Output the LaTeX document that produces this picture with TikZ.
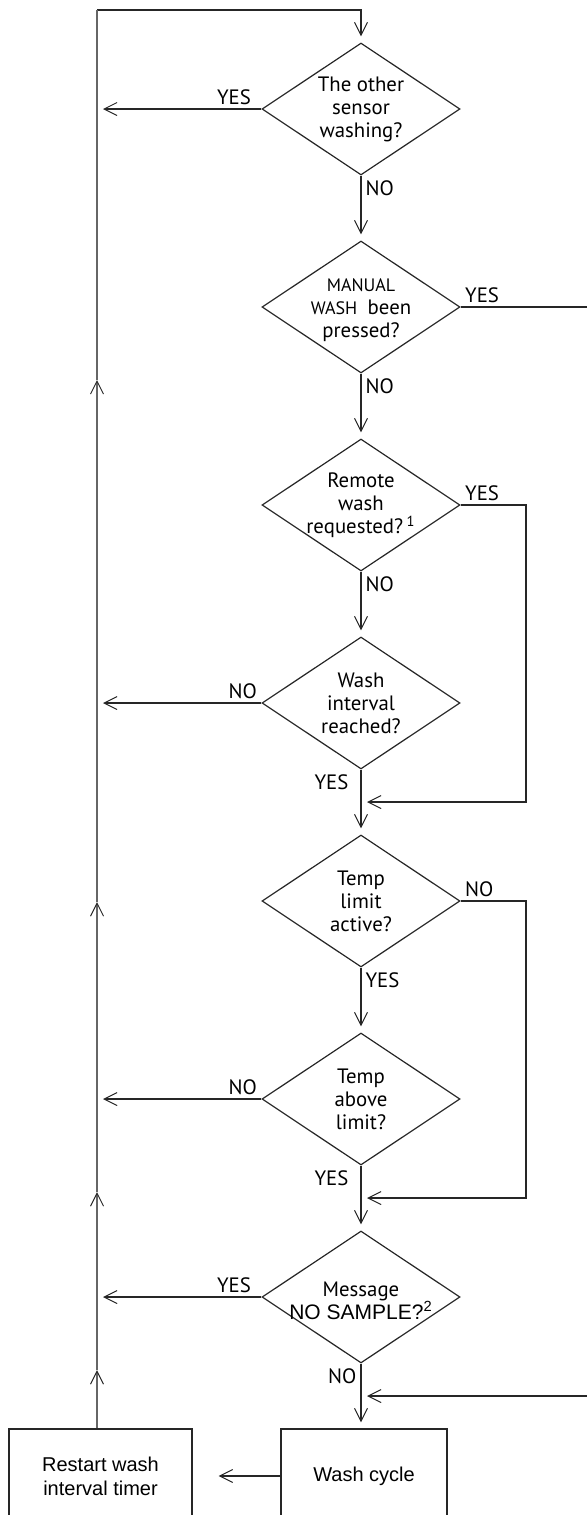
\documentclass[tikz,border=0pt]{standalone}
\usepackage{fontspec}
\setmainfont{PT Sans}
\newfontfamily\arial{Liberation Sans}
\usetikzlibrary{shapes.geometric, arrows.meta}

\begin{document}
\begin{tikzpicture}[x=0.5pt, y=-0.5pt,
  every node/.style={font=\fontsize{10.4}{11.5}\selectfont},
  line/.style={draw=black!85, line width=0.6pt},
  flow/.style={line, -{Straight Barb[length=6.5pt, width=6.5pt, line width=0.5pt]}, shorten >=3pt},
  loopline/.style={draw=black!60, line width=1pt, -{Straight Barb[length=6.5pt, width=6.5pt, line width=0.5pt, color=black!85]}},
  decision/.style={diamond, draw=black!85, line width=0.6pt, minimum width=99pt, minimum height=66pt, inner sep=0pt},
  txt/.style={align=center, inner sep=0pt},
  task/.style={rectangle, draw=black!85, line width=0.6pt, minimum height=47pt, align=center,
    font=\arial\fontsize{10}{12}\selectfont},
  tag/.style={inner sep=2pt}
]
\path[use as bounding box, clip] (0,0) rectangle (587,1515);

%decisions
\node[decision, label={[txt]center:The other\\sensor\\washing?}] (other) at (361,109) {};
\node[decision, label={[txt, yshift=-1.5pt]center:{\small MANUAL}\\{\small WASH}\enspace been\\pressed?}] (manual) at (361,307) {};
\node[decision, label={[txt]center:Remote\\wash\\requested?\,\textsuperscript{1}}] (remote) at (361,505) {};
\node[decision, label={[txt]center:Wash\\interval\\reached?}] (interval) at (361,703) {};
\node[decision, label={[txt]center:Temp\\limit\\active?}] (active) at (361,901) {};
\node[decision, label={[txt]center:Temp\\above\\limit?}] (above) at (361,1099) {};
\node[decision, label={[txt, yshift=-2pt]center:Message\\{\arial\fontsize{10.5}{12}\selectfont NO SAMPLE?\textsuperscript{2}}}] (sample) at (361,1297) {};

%actions
\node[task, minimum width=91.5pt] (restart) at (100.5,1476) {Restart wash\\interval timer};
\node[task, minimum width=83pt] (wash) at (364,1476) {Wash cycle};

%corners and joins
\coordinate (corner) at (97,10);
\coordinate (entry) at (361,10);
\coordinate (side) at (526,0);
\coordinate (edge) at (587,0);
\coordinate (j1) at (361,802);
\coordinate (j2) at (361,1198);
\coordinate (j3) at (361,1396);
\coordinate (up1) at (97,1370);
\coordinate (up2) at (97,1192);
\coordinate (up3) at (97,902);
\coordinate (up4) at (97,380);

%main column
\draw[flow] (corner) -- (entry) -- (other.north);
\draw[flow] (other.south) -- node[tag, below right, pos=0] {NO} (manual.north);
\draw[flow] (manual.south) -- node[tag, below right, pos=0] {NO} (remote.north);
\draw[flow] (remote.south) -- node[tag, below right, pos=0] {NO} (interval.north);
\draw[flow] (interval.south) -- node[tag, below left, pos=0, xshift=-4pt] {YES} (active.north);
\draw[flow] (active.south) -- node[tag, below right, pos=0] {YES} (above.north);
\draw[flow] (above.south) -- node[tag, below left, pos=0, xshift=-4pt] {YES} (sample.north);
\draw[flow] (sample.south) -- node[tag, below left, pos=0] {NO} (sample.south |- wash.north);

%back to the loop
\draw[flow] (other.west) -- node[tag, above left, pos=0, xshift=-3pt] {YES} (other.west -| corner);
\draw[flow] (interval.west) -- node[tag, above left, pos=0] {NO} (interval.west -| corner);
\draw[flow] (above.west) -- node[tag, above left, pos=0] {NO} (above.west -| corner);
\draw[flow] (sample.west) -- node[tag, above left, pos=0, xshift=-3pt] {YES} (sample.west -| corner);

%bypass on the right
\draw[line] (manual.east) -- node[tag, above right, pos=0] {YES} (manual.east -| edge);
\draw[flow] (remote.east) -- node[tag, above right, pos=0] {YES} (remote.east -| side) |- (j1);
\draw[flow] (active.east) -- node[tag, above right, pos=0] {NO} (active.east -| side) |- (j2);
\draw[flow] (edge |- j3) -- (j3);

%wash and restart
\draw[flow, shorten >=13pt] (wash.west) -- (restart.east);
\draw[loopline] (restart.north -| corner) -- (up1);
\draw[loopline] (up1) -- (up2);
\draw[loopline] (up2) -- (up3);
\draw[loopline] (up3) -- (up4);
\draw[loopline, -] (up4) -- (corner);
\end{tikzpicture}
\end{document}
